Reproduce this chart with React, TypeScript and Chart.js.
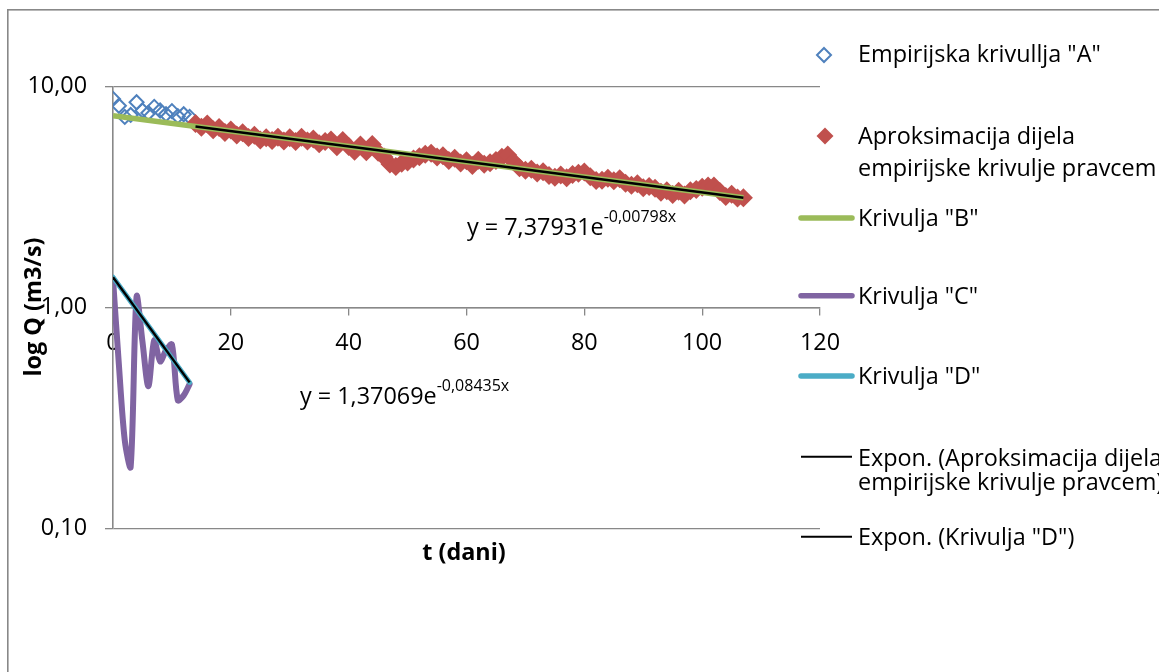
import React, { useEffect, useRef } from "react";
import { Chart, registerables } from "chart.js";

Chart.register(...registerables);

// ---------- data ----------
const curveADays = [0, 1, 2, 3, 4, 5, 6, 7, 8, 9, 10, 11, 12, 13];
const curveAValues = [8.8, 8.2, 7.3, 7.45, 8.5, 7.8, 7.6, 8.1, 7.8, 7.5, 7.75, 7.35, 7.5, 7.3];

const approxDays = [
  14, 15, 16, 17, 18, 19, 20, 21, 22, 23, 24, 25, 26, 27, 28, 29, 30, 31, 32, 33,
  34, 35, 36, 37, 38, 39, 40, 41, 42, 43, 44, 45, 46, 47, 48, 49, 50, 51, 52, 53,
  54, 55, 56, 57, 58, 59, 60, 61, 62, 63, 64, 65, 66, 67, 68, 69, 70, 71, 72, 73,
  74, 75, 76, 77, 78, 79, 80, 81, 82, 83, 84, 85, 86, 87, 88, 89, 90, 91, 92, 93,
  94, 95, 96, 97, 98, 99, 100, 101, 102, 103, 104, 105, 106, 107,
];
const approxValues = [
  6.81, 6.55, 6.77, 6.38, 6.53, 6.21, 6.36, 6.05, 6.19, 5.89, 6.03, 5.74, 5.87, 5.71, 5.9, 5.67, 5.87, 5.64, 5.9, 5.67,
  5.8, 5.52, 5.65, 5.73, 5.34, 5.7, 5.36, 5.1, 5.45, 5.07, 5.47, 5.05, 4.8, 4.47, 4.35, 4.5, 4.56, 4.71, 4.82, 4.94,
  5.0, 4.81, 4.87, 4.63, 4.74, 4.51, 4.62, 4.4, 4.64, 4.46, 4.52, 4.63, 4.79, 4.9, 4.57, 4.3, 4.18, 4.23, 4.07, 4.12,
  3.96, 3.89, 3.98, 3.87, 4.0, 4.05, 4.11, 3.91, 3.76, 3.77, 3.85, 3.75, 3.83, 3.65, 3.58, 3.63, 3.49, 3.53, 3.47, 3.33,
  3.38, 3.25, 3.36, 3.23, 3.38, 3.42, 3.5, 3.55, 3.55, 3.35, 3.18, 3.26, 3.13, 3.14,
];

const curveBDays = [0, 107];
const curveBValues = [7.38, 3.14];

const curveCDays = [0, 1, 2, 3, 4, 5, 6, 7, 8, 9, 10, 11, 12, 13];
const curveCValues = [1.35, 0.55, 0.25, 0.19, 1.12, 0.7, 0.44, 0.71, 0.57, 0.64, 0.68, 0.38, 0.4, 0.45];

const curveDDays = [0, 13];
const curveDValues = [1.371, 0.458];

const trendApproxDays = [14, 107];
const trendApproxValues = [6.6, 3.142];

const trendDDays = [0, 13];
const trendDValues = [1.371, 0.458];

const xTickStep = 20;
const xMin = 0;
const xMax = 120;
const yTicks = [0.1, 1, 10];

const seriesNames = [
  'Empirijska krivullja "A"',
  "Aproksimacija dijela\nempirijske krivulje pravcem",
  'Krivulja "B"',
  'Krivulja "C"',
  'Krivulja "D"',
  "Expon. (Aproksimacija dijela\nempirijske krivulje pravcem)",
  'Expon. (Krivulja "D")',
];

const equationApprox = ["y = 7,37931e", "-0,00798x"];
const equationD = ["y = 1,37069e", "-0,08435x"];

const xTitle = "t (dani)";
const yTitle = "log Q (m3/s)";

// ---------- styling ----------
const FONT = '"Open Sans", sans-serif';
const FS = 23.4;
const GRID = "#888888";
const BLUE = "#4F81BD";
const RED = "#C0504D";
const GREEN = "#9BBB59";
const PURPLE = "#8064A2";
const CYAN = "#4BACC6";

const toXY = (xs: number[], ys: number[]) => xs.map((x, i) => ({ x, y: ys[i] }));

function diamond(ctx: CanvasRenderingContext2D, cx: number, cy: number, r: number) {
  ctx.beginPath();
  ctx.moveTo(cx, cy - r);
  ctx.lineTo(cx + r, cy);
  ctx.lineTo(cx, cy + r);
  ctx.lineTo(cx - r, cy);
  ctx.closePath();
}

export default function App() {
  const ref = useRef<HTMLCanvasElement>(null);

  useEffect(() => {
    const canvas = ref.current;
    if (!canvas) return;

    const frame = {
      id: "frame",
      beforeDraw(chart: any) {
        const ctx = chart.ctx;
        ctx.save();
        ctx.fillStyle = "#fff";
        ctx.fillRect(0, 0, chart.width, chart.height);
        ctx.strokeStyle = GRID;
        ctx.lineWidth = 1.6;
        ctx.strokeRect(7.8, 9.8, 1400, 1000);
        ctx.restore();
      },
    };

    const annotations = {
      id: "annotations",
      afterDraw(chart: any) {
        const ctx: CanvasRenderingContext2D = chart.ctx;
        ctx.save();
        ctx.fillStyle = "#000";
        ctx.textAlign = "left";
        ctx.textBaseline = "alphabetic";

        // equations
        const drawEq = (eq: string[], x: number, y: number) => {
          ctx.font = `${FS}px ${FONT}`;
          ctx.fillText(eq[0], x, y);
          const w = ctx.measureText(eq[0]).width;
          ctx.font = `16px ${FONT}`;
          ctx.fillText(eq[1], x + w, y - 13.5);
        };
        drawEq(equationApprox, 467, 235);
        drawEq(equationD, 300, 404);

        // axis titles
        ctx.font = `bold ${FS}px ${FONT}`;
        ctx.textAlign = "center";
        ctx.fillText(xTitle, 464, 560);
        ctx.save();
        ctx.translate(40.5, 307);
        ctx.rotate(-Math.PI / 2);
        ctx.fillText(yTitle, 0, 0);
        ctx.restore();

        // legend
        ctx.textAlign = "left";
        ctx.font = `${FS}px ${FONT}`;
        const tx = 858;
        // A
        diamond(ctx, 824, 55, 7);
        ctx.strokeStyle = BLUE;
        ctx.lineWidth = 2;
        ctx.stroke();
        ctx.fillText(seriesNames[0], tx, 62);
        // approx points
        diamond(ctx, 825, 136, 8.5);
        ctx.fillStyle = RED;
        ctx.fill();
        ctx.fillStyle = "#000";
        const l1 = seriesNames[1].split("\n");
        ctx.fillText(l1[0], tx, 144);
        ctx.fillText(l1[1], tx, 175.5);

        const legLine = (y: number, color: string, width: number) => {
          ctx.beginPath();
          ctx.moveTo(801, y);
          ctx.lineTo(852, y);
          ctx.strokeStyle = color;
          ctx.lineWidth = width;
          ctx.lineCap = width > 3 ? "round" : "butt";
          ctx.stroke();
        };
        legLine(218, GREEN, 5.5);
        ctx.fillText(seriesNames[2], tx, 226);
        legLine(295.7, PURPLE, 5.5);
        ctx.fillText(seriesNames[3], tx, 303.5);
        legLine(376, CYAN, 5.5);
        ctx.fillText(seriesNames[4], tx, 384);
        legLine(456.7, "#000", 2);
        const l5 = seriesNames[5].split("\n");
        ctx.fillText(l5[0], tx, 466);
        ctx.fillText(l5[1], tx, 490);
        legLine(536.7, "#000", 2);
        ctx.fillText(seriesNames[6], tx, 545);

        ctx.restore();
      },
    };

    const tickFont = { family: FONT, size: FS };

    const chart = new Chart(canvas, {
      type: "scatter",
      data: {
        datasets: [
          {
            label: seriesNames[0],
            data: toXY(curveADays, curveAValues),
            pointStyle: "rectRot",
            pointRadius: 7,
            pointBorderWidth: 2,
            borderColor: BLUE,
            pointBorderColor: BLUE,
            pointBackgroundColor: "rgba(0,0,0,0)",
            backgroundColor: "rgba(0,0,0,0)",
            order: 7,
          },
          {
            label: seriesNames[1],
            data: toXY(approxDays, approxValues),
            pointStyle: "rectRot",
            pointRadius: 9.5,
            pointBorderWidth: 0,
            borderColor: RED,
            pointBorderColor: RED,
            pointBackgroundColor: RED,
            backgroundColor: RED,
            order: 6,
          },
          {
            label: seriesNames[2],
            data: toXY(curveBDays, curveBValues),
            showLine: true,
            pointRadius: 0,
            borderColor: GREEN,
            borderWidth: 5.5,
            order: 5,
          },
          {
            label: seriesNames[3],
            data: toXY(curveCDays, curveCValues),
            showLine: true,
            pointRadius: 0,
            borderColor: PURPLE,
            borderWidth: 6,
            tension: 0.3,
            borderCapStyle: "round",
            borderJoinStyle: "round",
            order: 4,
          },
          {
            label: seriesNames[4],
            data: toXY(curveDDays, curveDValues),
            showLine: true,
            pointRadius: 0,
            borderColor: CYAN,
            borderWidth: 5,
            borderCapStyle: "round",
            order: 3,
          },
          {
            label: seriesNames[5],
            data: toXY(trendApproxDays, trendApproxValues),
            showLine: true,
            pointRadius: 0,
            borderColor: "#000",
            borderWidth: 2.5,
            order: 2,
          },
          {
            label: seriesNames[6],
            data: toXY(trendDDays, trendDValues),
            showLine: true,
            pointRadius: 0,
            borderColor: "#000",
            borderWidth: 2.5,
            order: 1,
          },
        ],
      },
      options: {
        responsive: false,
        animation: false,
        devicePixelRatio: 1,
        layout: { padding: { left: 0, top: 86.7, right: 339, bottom: 143.7 } },
        plugins: {
          legend: { display: false },
          tooltip: { enabled: false },
        },
        scales: {
          x: {
            type: "linear",
            min: xMin,
            max: xMax,
            position: { y: 1 },
            ticks: {
              stepSize: xTickStep,
              color: "#000",
              font: tickFont,
              padding: 15,
              maxRotation: 0,
              autoSkip: false,
            },
            grid: {
              display: true,
              drawOnChartArea: false,
              drawTicks: true,
              tickLength: 7,
              color: GRID,
              lineWidth: 1.3,
            },
            border: { display: true, color: GRID, width: 1.6 },
          },
          y: {
            type: "logarithmic",
            min: yTicks[0],
            max: yTicks[yTicks.length - 1],
            position: "left",
            afterFit: (s: any) => {
              s.width = 113;
            },
            afterBuildTicks: (s: any) => {
              s.ticks = yTicks.map((v) => ({ value: v }));
            },
            ticks: {
              color: "#000",
              font: tickFont,
              padding: 18,
              callback: (v: any) => Number(v).toFixed(2).replace(".", ","),
            },
            grid: {
              color: GRID,
              lineWidth: 1.3,
              tickLength: 8,
            },
            border: { display: true, color: GRID, width: 1.6 },
          },
        },
      },
      plugins: [frame, annotations],
    } as any);

    return () => chart.destroy();
  }, []);

  return (
    <div style={{ position: "fixed", left: 0, top: 0, width: 1159, height: 672, background: "#fff" }}>
      <canvas ref={ref} width={1159} height={672} style={{ display: "block", width: 1159, height: 672 }} />
    </div>
  );
}
